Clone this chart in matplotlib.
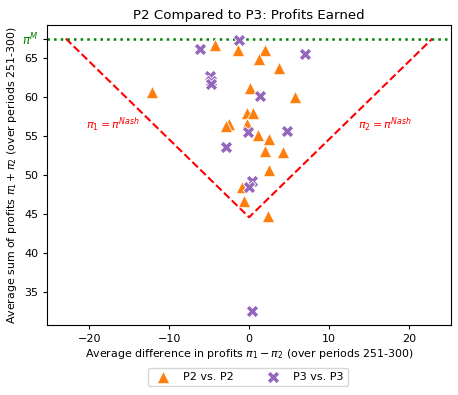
import matplotlib
matplotlib.use("Agg")
import matplotlib.pyplot as plt
import numpy as np

# Data
pi_nash_sum = 44.58
pi_mon_sum = 67.50

p2_diff = [-12.1, -4.3, -1.36, 2.0, 1.28, 3.75, 0.1, 5.7, -0.31, 0.48, -2.45, -2.9,
           -0.23, 1.16, 2.5, 2.0, 4.2, 2.5, -0.94, -0.65, 2.36]
p2_sum = [60.7, 66.7, 66.1, 66.1, 64.9, 63.7, 61.2, 60.0, 58.0, 57.9, 56.5, 56.25,
          56.6, 55.1, 54.6, 53.1, 52.9, 50.6, 48.4, 46.6, 44.8]

p3_diff = [-6.2, -1.25, -4.85, -4.8, -4.75, 1.4, 7.0, -0.1, 4.7, -2.85, 0.4, 0.0, 0.4]
p3_sum = [66.2, 67.35, 62.75, 62.1, 61.7, 60.1, 65.5, 55.5, 55.6, 53.65, 49.2, 48.5, 32.5]

fig = plt.figure(figsize=(4.58, 3.95), dpi=100)
ax = fig.add_axes([0.1037, 0.1772, 0.8803, 0.7595])

d = pi_mon_sum - pi_nash_sum
ax.plot([-d, 0, d], [pi_mon_sum, pi_nash_sum, pi_mon_sum], 'r--', lw=1.5)
ax.axhline(pi_mon_sum, color='green', ls=':', lw=1.8)

ax.scatter(p2_diff, p2_sum, marker='^', s=80, color='#ff7f0e', edgecolors='white',
           linewidths=0.6, label='P2 vs. P2', zorder=3)
ax.scatter(p3_diff, p3_sum, marker='X', s=80, color='#9467bd', edgecolors='white',
           linewidths=0.6, label='P3 vs. P3', zorder=3)

ax.text(-17, 56.5, r'$\pi_1 = \pi^{Nash}$', color='red', ha='center', va='center', fontsize=8)
ax.text(17, 56.5, r'$\pi_2 = \pi^{Nash}$', color='red', ha='center', va='center', fontsize=8)

ax.set_xticks([-20, -10, 0, 10, 20])
yt = [35, 40, 45, 50, 55, 60, 65, pi_mon_sum]
ax.set_yticks(yt)
ax.set_yticklabels(['35', '40', '45', '50', '55', '60', '65', r'$\pi^M$'])
ax.tick_params(labelsize=8, length=3)
lbl = ax.get_yticklabels()[-1]
lbl.set_color('green')
lbl.set_fontsize(8.5)

ax.set_title('P2 Compared to P3: Profits Earned', fontsize=9.6, pad=4)
ax.set_xlabel(r'Average difference in profits $\pi_1 - \pi_2$ (over periods 251-300)', fontsize=7.9, labelpad=2)
ax.set_ylabel(r'Average sum of profits $\pi_1 + \pi_2$ (over periods 251-300)', fontsize=7.9, labelpad=2)

fig.legend(loc='center', bbox_to_anchor=(0.541, 0.0456), ncol=2, fontsize=8, columnspacing=2.5)

fig.savefig('out.png', dpi=100)
